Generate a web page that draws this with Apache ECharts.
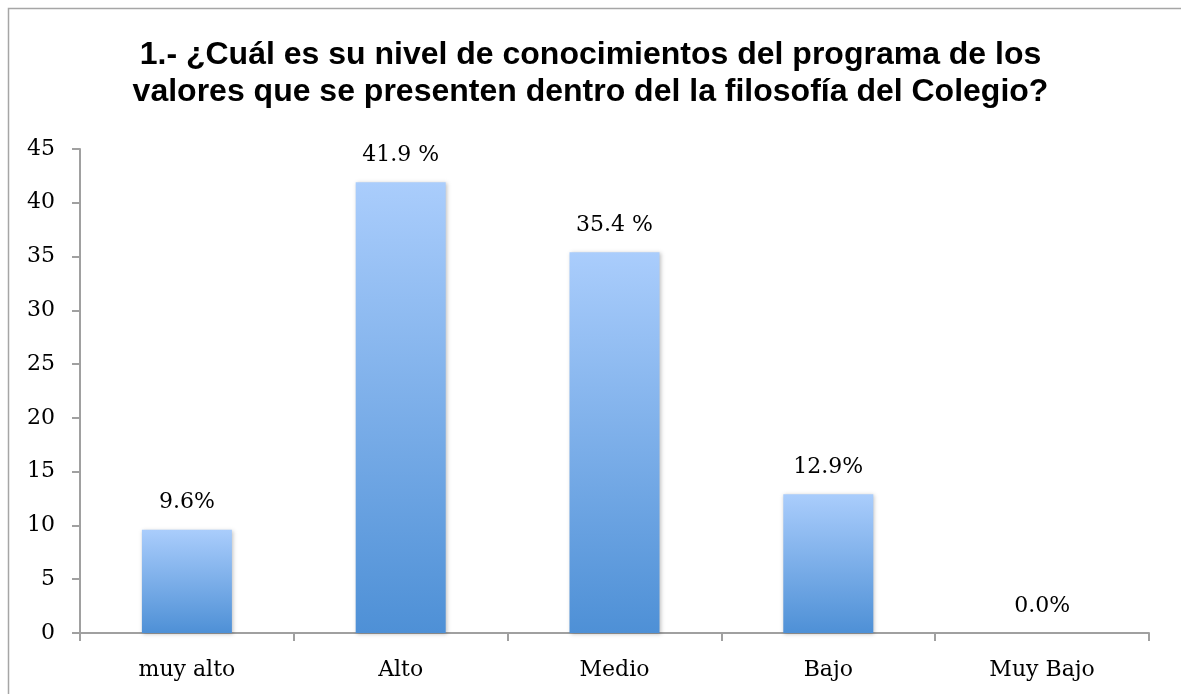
<!DOCTYPE html>
<html>
<head>
<meta charset="utf-8">
<script src="https://cdn.jsdelivr.net/npm/echarts@6/dist/echarts.min.js"></script>
<style>
  html, body { margin: 0; padding: 0; background: #fff; }
  #grafico { width: 1181px; height: 694px; }
</style>
</head>
<body>
<div id="grafico"></div>
<script>
// Datos
const categorias = ['muy alto', 'Alto', 'Medio', 'Bajo', 'Muy Bajo'];
const valores = [9.6, 41.9, 35.4, 12.9, 0];
const etiquetas = ['9.6%', '41.9 %', '35.4 %', '12.9%', '0.0%'];

const fuenteEjes = '"DejaVu Serif", "Liberation Serif", serif';

const grafico = echarts.init(document.getElementById('grafico'));

grafico.setOption({
    animation: false,
    backgroundColor: '#fff',
    graphic: [{
        type: 'rect',
        shape: { x: 8.5, y: 8.5, width: 1200, height: 720 },
        style: { fill: 'none', stroke: '#a6a6a6', lineWidth: 1.5 },
        silent: true
    }],
    title: {
        text: '1.- ¿Cuál es su nivel de conocimientos del programa de los\nvalores que se presenten dentro del la filosofía del Colegio?',
        left: 'center',
        top: 37,
        padding: [0, 0, 0, 14],
        textStyle: {
            fontFamily: '"Liberation Sans", Arial, sans-serif',
            fontWeight: 'bold',
            fontSize: 32,
            lineHeight: 37,
            color: '#000'
        }
    },
    grid: { left: 80, right: 32, top: 149, bottom: 61 },
    xAxis: {
        type: 'category',
        data: categorias,
        axisLine: { lineStyle: { color: '#a0a0a0', width: 2 } },
        axisTick: { show: true, length: 8, lineStyle: { color: '#a0a0a0', width: 2 } },
        axisLabel: { margin: 26, fontFamily: fuenteEjes, fontSize: 22, color: '#000' }
    },
    yAxis: {
        type: 'value',
        min: 0,
        max: 45,
        interval: 5,
        splitLine: { show: false },
        axisLine: { show: true, lineStyle: { color: '#a0a0a0', width: 2 } },
        axisTick: { show: true, length: 8, lineStyle: { color: '#a0a0a0', width: 2 } },
        axisLabel: { margin: 25, fontFamily: fuenteEjes, fontSize: 22, color: '#000' }
    },
    series: [{
        type: 'bar',
        data: valores,
        barWidth: 90,
        itemStyle: {
            color: new echarts.graphic.LinearGradient(0, 0, 0, 1, [
                { offset: 0, color: '#aacdfc' },
                { offset: 1, color: '#4e90d6' }
            ]),
            shadowColor: 'rgba(0,0,0,0.25)',
            shadowBlur: 4,
            shadowOffsetX: 1,
            shadowOffsetY: 1
        },
        label: {
            show: true,
            position: 'top',
            distance: 16,
            fontFamily: fuenteEjes,
            fontSize: 22,
            color: '#000',
            formatter: p => etiquetas[p.dataIndex]
        }
    }]
});
</script>
</body>
</html>
